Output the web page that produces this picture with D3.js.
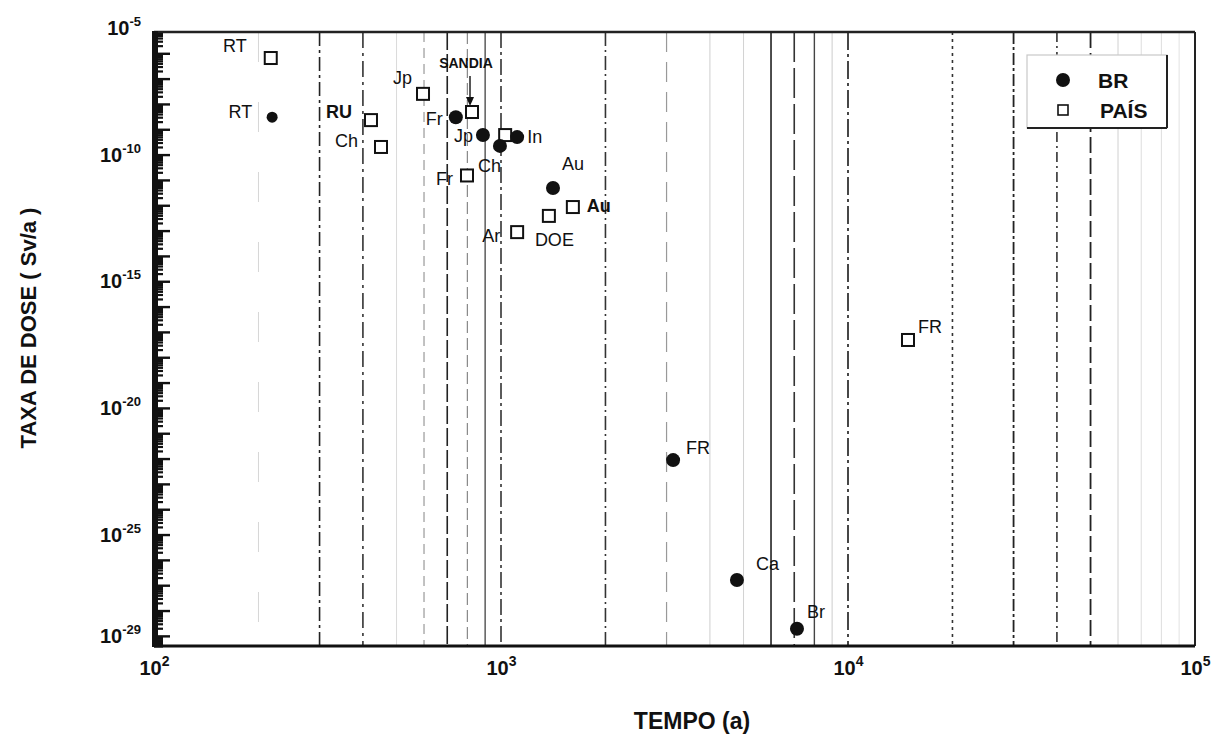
<!DOCTYPE html>
<html>
<head>
<meta charset="utf-8">
<script src="https://cdn.jsdelivr.net/npm/d3@7"></script>
<style>
  body { margin: 0; background: #fff; }
  svg text { font-family: "Liberation Sans", Arial, sans-serif; fill: #111; }
</style>
</head>
<body>
<svg id="chart" width="1215" height="738"></svg>
<script>
// data
const xTicks = [1e2, 1e3, 1e4, 1e5];
const yTickExps = [-5, -10, -15, -20, -25, -29];

// BR (filled circles)
const brLabels = ["RT", "Fr", "Jp", "Ch", "In", "Au", "FR", "Ca", "Br"];
const brTempo  = [219, 741, 887, 993, 1113, 1412, 3133, 4786, 7128];
const brTaxa   = [3.0e-9, 3.0e-9, 5.9e-10, 2.2e-10, 4.9e-10, 4.8e-12, 8.7e-23, 1.6e-27, 1.9e-29];

// PAÍS (open squares)
const paisLabels = ["RT", "Jp", "SANDIA", "RU", "Ch", "Fr", "", "Au", "DOE", "Ar", "FR"];
const paisTempo  = [217, 596, 825, 422, 451, 798, 1028, 1611, 1374, 1113, 14890];
const paisTaxa   = [6.5e-7, 2.5e-8, 4.8e-9, 2.3e-9, 2.0e-10, 1.5e-11, 5.9e-10, 8.5e-13, 3.8e-13, 8.7e-14, 4.8e-18];

// label placement (offset from the marker, anchor, bold)
const brPlace = [
  [-20, 1, "end"], [-13, 8, "end"], [-10, 7, "end"], [-22, 26, "start"], [10, 6, "start"],
  [9, -18, "start"], [13, -6, "start"], [19, -10, "start"], [10, -11, "start"]
];
const paisPlace = [
  [-24, -6, "end"], [-11, -10, "end"], [-6, -44, "middle", true], [-19, -2, "end", true],
  [-23, 0, "end"], [-14, 10, "end"], [0, 0, "start"], [14, 5, "start", true],
  [-14, 30, "start"], [-17, 10, "end"], [10, -7, "start"]
];

const svg = d3.select("#chart");
const m = { left: 154, right: 1195, top: 32, bottom: 646 };

const x = d3.scaleLog().domain([1e2, 1e5]).range([m.left, m.right]);
const y = d3.scaleLog().domain([Math.pow(10, -29.4), Math.pow(10, -5.16)]).range([m.bottom, m.top]);

// vertical grid lines (scanned look: mixed dash styles)
const gridVals = [];
[100, 1000, 10000].forEach(d => { for (let k = 2; k <= 9; k++) gridVals.push(k * d); });
gridVals.push(1000, 10000);
const gridStyle = [
  ["#d6d6d6", 1, "30,40"], ["#222", 1.6, "14,4,3,4"], ["#333", 1.6, "16,5,3,5"], ["#dadada", 1, "none"],
  ["#999", 1.2, "10,6"], ["#222", 1.6, "18,4"], ["#888", 1.2, "12,5"], ["#333", 1.2, "none"],
  ["#333", 1.6, "14,4,2,4"], ["#999", 1.2, "20,10"], ["#cfcfcf", 1, "none"], ["#d2d2d2", 1, "none"],
  ["#222", 1.6, "none"], ["#333", 1.6, "30,6"], ["#444", 1.4, "none"], ["#cccccc", 1, "none"],
  ["#333", 1.6, "3,4"], ["#222", 1.8, "12,3,3,3"], ["#333", 1.6, "10,4,2,4"], ["#222", 1.8, "16,5"],
  ["#d0d0d0", 1, "none"], ["#dddddd", 1, "none"], ["#dddddd", 1, "none"], ["#e2e2e2", 1, "none"],
  ["#333", 1.6, "16,4,3,4"], ["#333", 1.8, "18,4,3,4"]
];
svg.append("g")
  .selectAll("line")
  .data(gridVals)
  .enter()
  .append("line")
  .attr("x1", d => x(d)).attr("x2", d => x(d))
  .attr("y1", m.top).attr("y2", m.bottom)
  .attr("stroke", (d, i) => gridStyle[i][0])
  .attr("stroke-width", (d, i) => gridStyle[i][1])
  .attr("stroke-dasharray", (d, i) => gridStyle[i][2]);

// frame
svg.append("line").attr("x1", m.left).attr("x2", m.right).attr("y1", m.top).attr("y2", m.top)
  .attr("stroke", "#222").attr("stroke-width", 2.5);
svg.append("line").attr("x1", m.right).attr("x2", m.right).attr("y1", m.top).attr("y2", m.bottom)
  .attr("stroke", "#222").attr("stroke-width", 2);
svg.append("line").attr("x1", m.left).attr("x2", m.right).attr("y1", m.bottom).attr("y2", m.bottom)
  .attr("stroke", "#111").attr("stroke-width", 3);

// left axis: dense log ticks pointing inward
const yMinor = [], yMajor = [];
for (let e = -30; e <= -5; e++) {
  const lo = y.domain()[0], hi = y.domain()[1];
  if (Math.pow(10, e) >= lo && Math.pow(10, e) <= hi) yMajor.push(Math.pow(10, e));
  for (let k = 2; k <= 9; k++) {
    const v = k * Math.pow(10, e);
    if (v >= lo && v <= hi) yMinor.push(v);
  }
}
svg.append("g")
  .attr("transform", `translate(${m.left},0)`)
  .call(d3.axisRight(y).tickValues(yMinor).tickSize(9).tickFormat(""))
  .call(g => g.select(".domain").remove())
  .selectAll("line").attr("stroke", "#111").attr("stroke-width", 2.2);
svg.append("g")
  .attr("transform", `translate(${m.left},0)`)
  .call(d3.axisRight(y).tickValues(yMajor).tickSize(16).tickFormat(""))
  .call(g => g.select(".domain").remove())
  .selectAll("line").attr("stroke", "#111").attr("stroke-width", 2.4);
svg.append("line").attr("x1", m.left + 1).attr("x2", m.left + 1).attr("y1", m.top - 1).attr("y2", m.bottom + 1)
  .attr("stroke", "#111").attr("stroke-width", 6);

// y tick labels (powers of ten)
const yLab = svg.append("g")
  .selectAll("text")
  .data(yTickExps)
  .enter()
  .append("text")
  .attr("x", 141)
  .attr("y", d => y(Math.pow(10, d)) + 7)
  .attr("text-anchor", "end")
  .style("font-weight", "bold")
  .style("font-size", "20px");
yLab.append("tspan").text("10");
yLab.append("tspan").attr("dy", -9).style("font-size", "13px").text(d => String(d));

// x axis labels
const xAxis = svg.append("g")
  .attr("transform", `translate(0,${m.bottom})`)
  .call(d3.axisBottom(x).tickValues(xTicks).tickSize(0).tickFormat(""));
xAxis.select(".domain").remove();
xAxis.selectAll(".tick").append("text")
  .attr("y", 29)
  .attr("text-anchor", "middle")
  .style("font-weight", "bold")
  .style("font-size", "20px")
  .each(function (d) {
    const t = d3.select(this);
    t.append("tspan").text("10");
    t.append("tspan").attr("dy", -9).style("font-size", "14px").text(Math.round(Math.log10(d)));
  });

// axis titles
svg.append("text")
  .attr("x", 692).attr("y", 729)
  .attr("text-anchor", "middle")
  .style("font-weight", "bold").style("font-size", "23px")
  .text("TEMPO (a)");
svg.append("text")
  .attr("transform", "translate(36,328) rotate(-90)")
  .attr("text-anchor", "middle")
  .style("font-weight", "bold").style("font-size", "22px")
  .text("TAXA DE DOSE  ( Sv/a )");

// PAÍS squares
const sq = 12;
svg.append("g")
  .selectAll("rect")
  .data(paisTempo)
  .enter()
  .append("rect")
  .attr("x", (d, i) => x(d) - sq / 2)
  .attr("y", (d, i) => y(paisTaxa[i]) - sq / 2)
  .attr("width", sq).attr("height", sq)
  .attr("fill", "#fff").attr("stroke", "#111").attr("stroke-width", 2);

svg.append("g")
  .selectAll("text")
  .data(paisLabels)
  .enter()
  .append("text")
  .attr("x", (d, i) => x(paisTempo[i]) + paisPlace[i][0])
  .attr("y", (d, i) => y(paisTaxa[i]) + paisPlace[i][1])
  .attr("text-anchor", (d, i) => paisPlace[i][2])
  .style("font-size", d => d === "SANDIA" ? "14px" : "18px")
  .style("font-weight", (d, i) => paisPlace[i][3] ? "bold" : "normal")
  .text(d => d);

// SANDIA arrow
const si = paisLabels.indexOf("SANDIA");
const sx = x(paisTempo[si]) - 2, sy = y(paisTaxa[si]);
svg.append("line").attr("x1", sx).attr("x2", sx).attr("y1", sy - 36).attr("y2", sy - 12)
  .attr("stroke", "#111").attr("stroke-width", 1.4);
svg.append("path")
  .attr("d", `M${sx - 4},${sy - 15} L${sx + 4},${sy - 15} L${sx},${sy - 6} Z`)
  .attr("fill", "#111");

// BR circles
svg.append("g")
  .selectAll("circle")
  .data(brTempo)
  .enter()
  .append("circle")
  .attr("cx", d => x(d))
  .attr("cy", (d, i) => y(brTaxa[i]))
  .attr("r", (d, i) => brLabels[i] === "RT" ? 5.5 : 7)
  .attr("fill", "#111");

svg.append("g")
  .selectAll("text")
  .data(brLabels)
  .enter()
  .append("text")
  .attr("x", (d, i) => x(brTempo[i]) + brPlace[i][0])
  .attr("y", (d, i) => y(brTaxa[i]) + brPlace[i][1])
  .attr("text-anchor", (d, i) => brPlace[i][2])
  .style("font-size", "18px")
  .text(d => d);

// legend
const lg = svg.append("g").attr("transform", "translate(1027,55)");
lg.append("rect").attr("width", 140).attr("height", 73)
  .attr("fill", "#fff").attr("stroke", "#c8c8c8").attr("stroke-width", 1.2);
lg.append("line").attr("x1", 140).attr("x2", 140).attr("y1", 0).attr("y2", 73)
  .attr("stroke", "#222").attr("stroke-width", 2);
lg.append("line").attr("x1", 0).attr("x2", 140).attr("y1", 73).attr("y2", 73)
  .attr("stroke", "#222").attr("stroke-width", 2);
lg.append("circle").attr("cx", 36).attr("cy", 25).attr("r", 7).attr("fill", "#111");
lg.append("text").attr("x", 71).attr("y", 33)
  .style("font-weight", "bold").style("font-size", "21px").text("BR");
lg.append("rect").attr("x", 31).attr("y", 50).attr("width", 10).attr("height", 10)
  .attr("fill", "#fff").attr("stroke", "#111").attr("stroke-width", 1.6);
lg.append("text").attr("x", 73).attr("y", 63)
  .style("font-weight", "bold").style("font-size", "21px").text("PAÍS");
</script>
</body>
</html>
